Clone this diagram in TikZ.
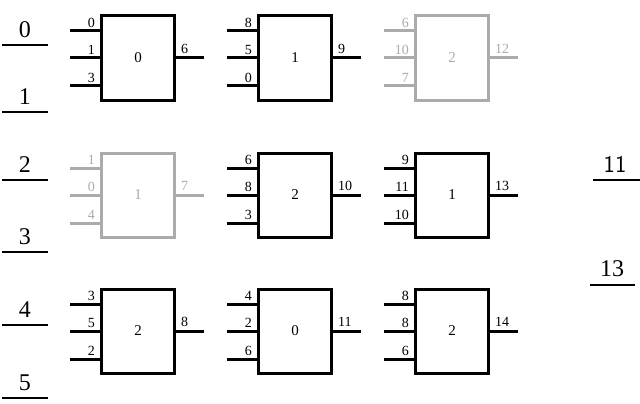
\documentclass[tikz,border=0pt]{standalone}
\usepackage{fontspec}
\setmainfont{Liberation Serif}
\begin{document}
\begin{tikzpicture}[x=1pt,y=-1pt,
  gbox/.style={draw,line width=3pt,minimum width=73pt,minimum height=84pt,inner sep=0pt,font=\fontsize{15}{15}\selectfont},
  pin/.style={line width=3pt},
  plab/.style={font=\fontsize{14}{14}\selectfont,inner sep=0pt},
  big/.style={font=\fontsize{24}{24}\selectfont,inner sep=0pt},
  uline/.style={line width=2.5pt}]
\useasboundingbox (0,0) rectangle (640,404);
\newcommand{\gate}[9]{%
 \begin{scope}[#9]
 \node[gbox] (#1) at (#2,#3) {#4};
 \coordinate (#1i1) at ($(#1.west)+(0,-27)$);
 \coordinate (#1i2) at (#1.west);
 \coordinate (#1i3) at ($(#1.west)+(0,28)$);
 \coordinate (#1a) at ($(#1i1)+(-30,0)$);
 \coordinate (#1b) at ($(#1i2)+(-30,0)$);
 \coordinate (#1c) at ($(#1i3)+(-30,0)$);
 \coordinate (#1o) at ($(#1.east)+(28,0)$);
 \draw[pin] (#1a) -- (#1i1); \draw[pin] (#1b) -- (#1i2); \draw[pin] (#1c) -- (#1i3);
 \draw[pin] (#1.east) -- (#1o);
 \node[plab,anchor=south east] at ($(#1i1)+(-5,-3)$) {#5};
 \node[plab,anchor=south east] at ($(#1i2)+(-5,-3)$) {#6};
 \node[plab,anchor=south east] at ($(#1i3)+(-5,-3)$) {#7};
 \node[plab,anchor=south west] at ($(#1.east)+(5,-4)$) {#8};
 \end{scope}}
\usetikzlibrary{calc}
\colorlet{gr}{black!33}
\gate{g1}{138}{58}{0}{0}{1}{3}{6}{}
\gate{g2}{295}{58}{1}{8}{5}{0}{9}{}
\gate{g3}{452}{58}{2}{6}{10}{7}{12}{draw=gr,text=gr,color=gr}
\gate{g4}{138}{195}{1}{1}{0}{4}{7}{draw=gr,text=gr,color=gr}
\gate{g5}{295}{195}{2}{6}{8}{3}{10}{}
\gate{g6}{452}{195}{1}{9}{11}{10}{13}{}
\gate{g7}{138}{331}{2}{3}{5}{2}{8}{}
\gate{g8}{295}{331}{0}{4}{2}{6}{11}{}
\gate{g9}{452}{331}{2}{8}{8}{6}{14}{}
\foreach \t/\y in {0/45,1/112,2/180,3/252,4/325,5/398}{
  \node[big,anchor=south] (L\t) at (25,\y-7) {\t};
  \draw[uline] (2,\y) -- (48,\y);}
\node[big,anchor=south,font=\fontsize{24}{24}\sffamily] (R11) at (615,173) {11};
\draw[uline] (593,180) -- (640,180);
\node[big,anchor=south,font=\fontsize{24}{24}\selectfont] (R13) at (612,277) {13};
\draw[uline] (590,285) -- (635,285);
\end{tikzpicture}
\end{document}
